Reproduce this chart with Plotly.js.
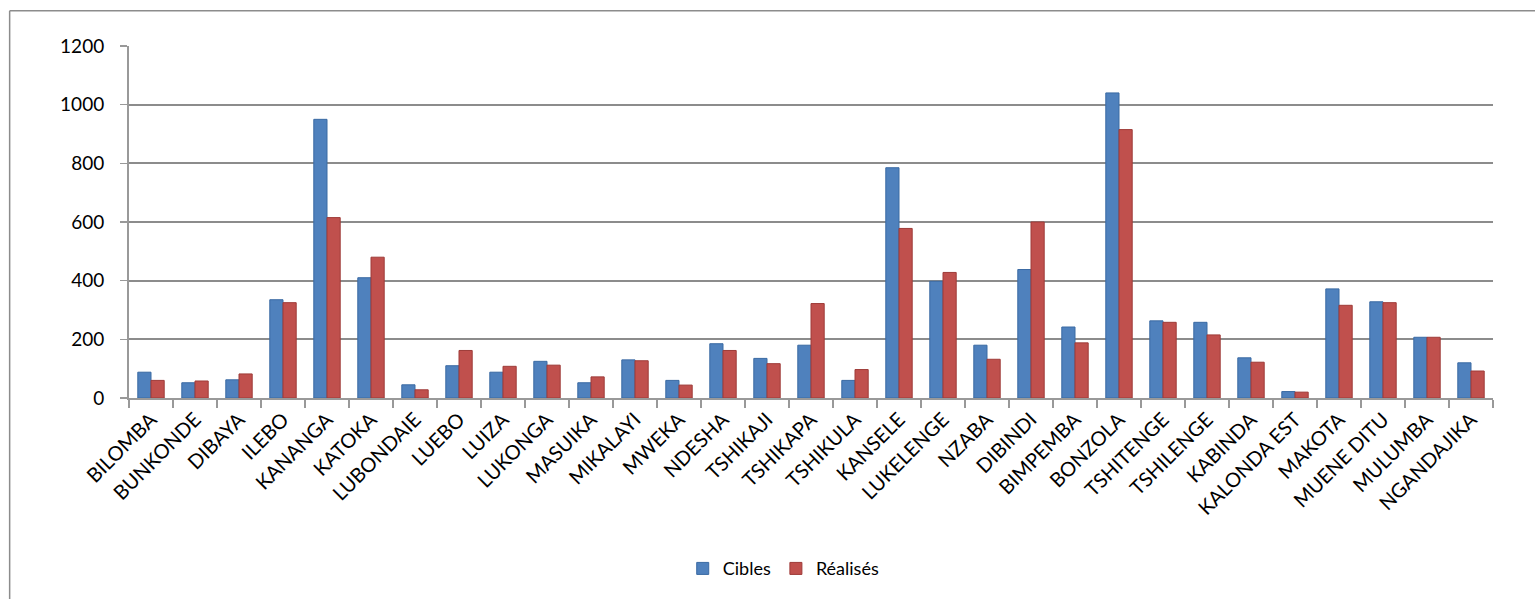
<!DOCTYPE html>
<html>
<head>
<meta charset="utf-8">
<script src="https://cdn.plot.ly/plotly-3.0.1.min.js"></script>
<style>html,body{margin:0;padding:0;background:#fff;}#chart{width:1535px;height:599px;}</style>
</head>
<body>
<div id="chart"></div>
<script>
const categories = ["BILOMBA","BUNKONDE","DIBAYA","ILEBO","KANANGA","KATOKA","LUBONDAIE","LUEBO","LUIZA","LUKONGA","MASUIKA","MIKALAYI","MWEKA","NDESHA","TSHIKAJI","TSHIKAPA","TSHIKULA","KANSELE","LUKELENGE","NZABA","DIBINDI","BIMPEMBA","BONZOLA","TSHITENGE","TSHILENGE","KABINDA","KALONDA EST","MAKOTA","MUENE DITU","MULUMBA","NGANDAJIKA"];
const cibles = [88,52,62,335,950,410,45,110,88,125,52,130,60,185,135,180,60,785,398,180,438,242,1040,263,258,137,22,372,328,207,120];
const realises = [60,58,82,325,615,480,28,162,108,112,72,127,44,162,117,322,97,578,428,132,600,188,915,258,215,122,20,316,325,207,92];
const yTicks = [0,200,400,600,800,1000,1200];

const font = "Lato, 'Open Sans', 'Liberation Sans', sans-serif";
const data = [
  {type:'bar', name:'Cibles', x:categories, y:cibles,
   marker:{color:'#4F81BD', line:{color:'#3A6AA3', width:1}}},
  {type:'bar', name:'Réalisés', x:categories, y:realises,
   marker:{color:'#C0504D', line:{color:'#9E3B38', width:1}}}
];
const layout = {
  width:1535, height:599,
  margin:{l:129, r:42, t:46, b:201},
  paper_bgcolor:'#fff', plot_bgcolor:'#fff',
  barmode:'group', bargap:0.4, bargroupgap:0,
  font:{family:font, color:'#000'},
  showlegend:true,
  legend:{orientation:'h', x:0.48, xanchor:'center', y:-0.485, yanchor:'middle',
          font:{size:18, family:font}, itemwidth:30, traceorder:'normal'},
  xaxis:{type:'category', tickangle:-45, tickfont:{size:20, family:font},
         showline:true, linecolor:'#999', linewidth:2, ticks:'outside', ticklen:8,
         tickcolor:'#999', tickwidth:1.5, showgrid:false, automargin:false,
         tickson:'boundaries'},
  yaxis:{range:[0,1200], tickvals:yTicks, ticktext:yTicks.map(String),
         tickfont:{size:19, family:font}, showline:true, linecolor:'#999', linewidth:2,
         ticks:'outside', ticklen:7, tickcolor:'#999', tickwidth:1.5, ticklabelstandoff:12,
         showgrid:true, gridcolor:'#8c8c8c', gridwidth:2, zeroline:false, automargin:false},
  shapes:[
    {type:'line', xref:'paper', yref:'paper', x0:-0.0875, x1:1.2, y0:1.1, y1:1.1,
     line:{color:'#8c8c8c', width:1.5}},
    {type:'line', xref:'paper', yref:'paper', x0:-0.0875, x1:-0.0875, y0:1.1, y1:-0.7,
     line:{color:'#8c8c8c', width:1.5}}
  ]
};
Plotly.newPlot('chart', data, layout, {displayModeBar:false, staticPlot:true});
</script>
</body>
</html>
